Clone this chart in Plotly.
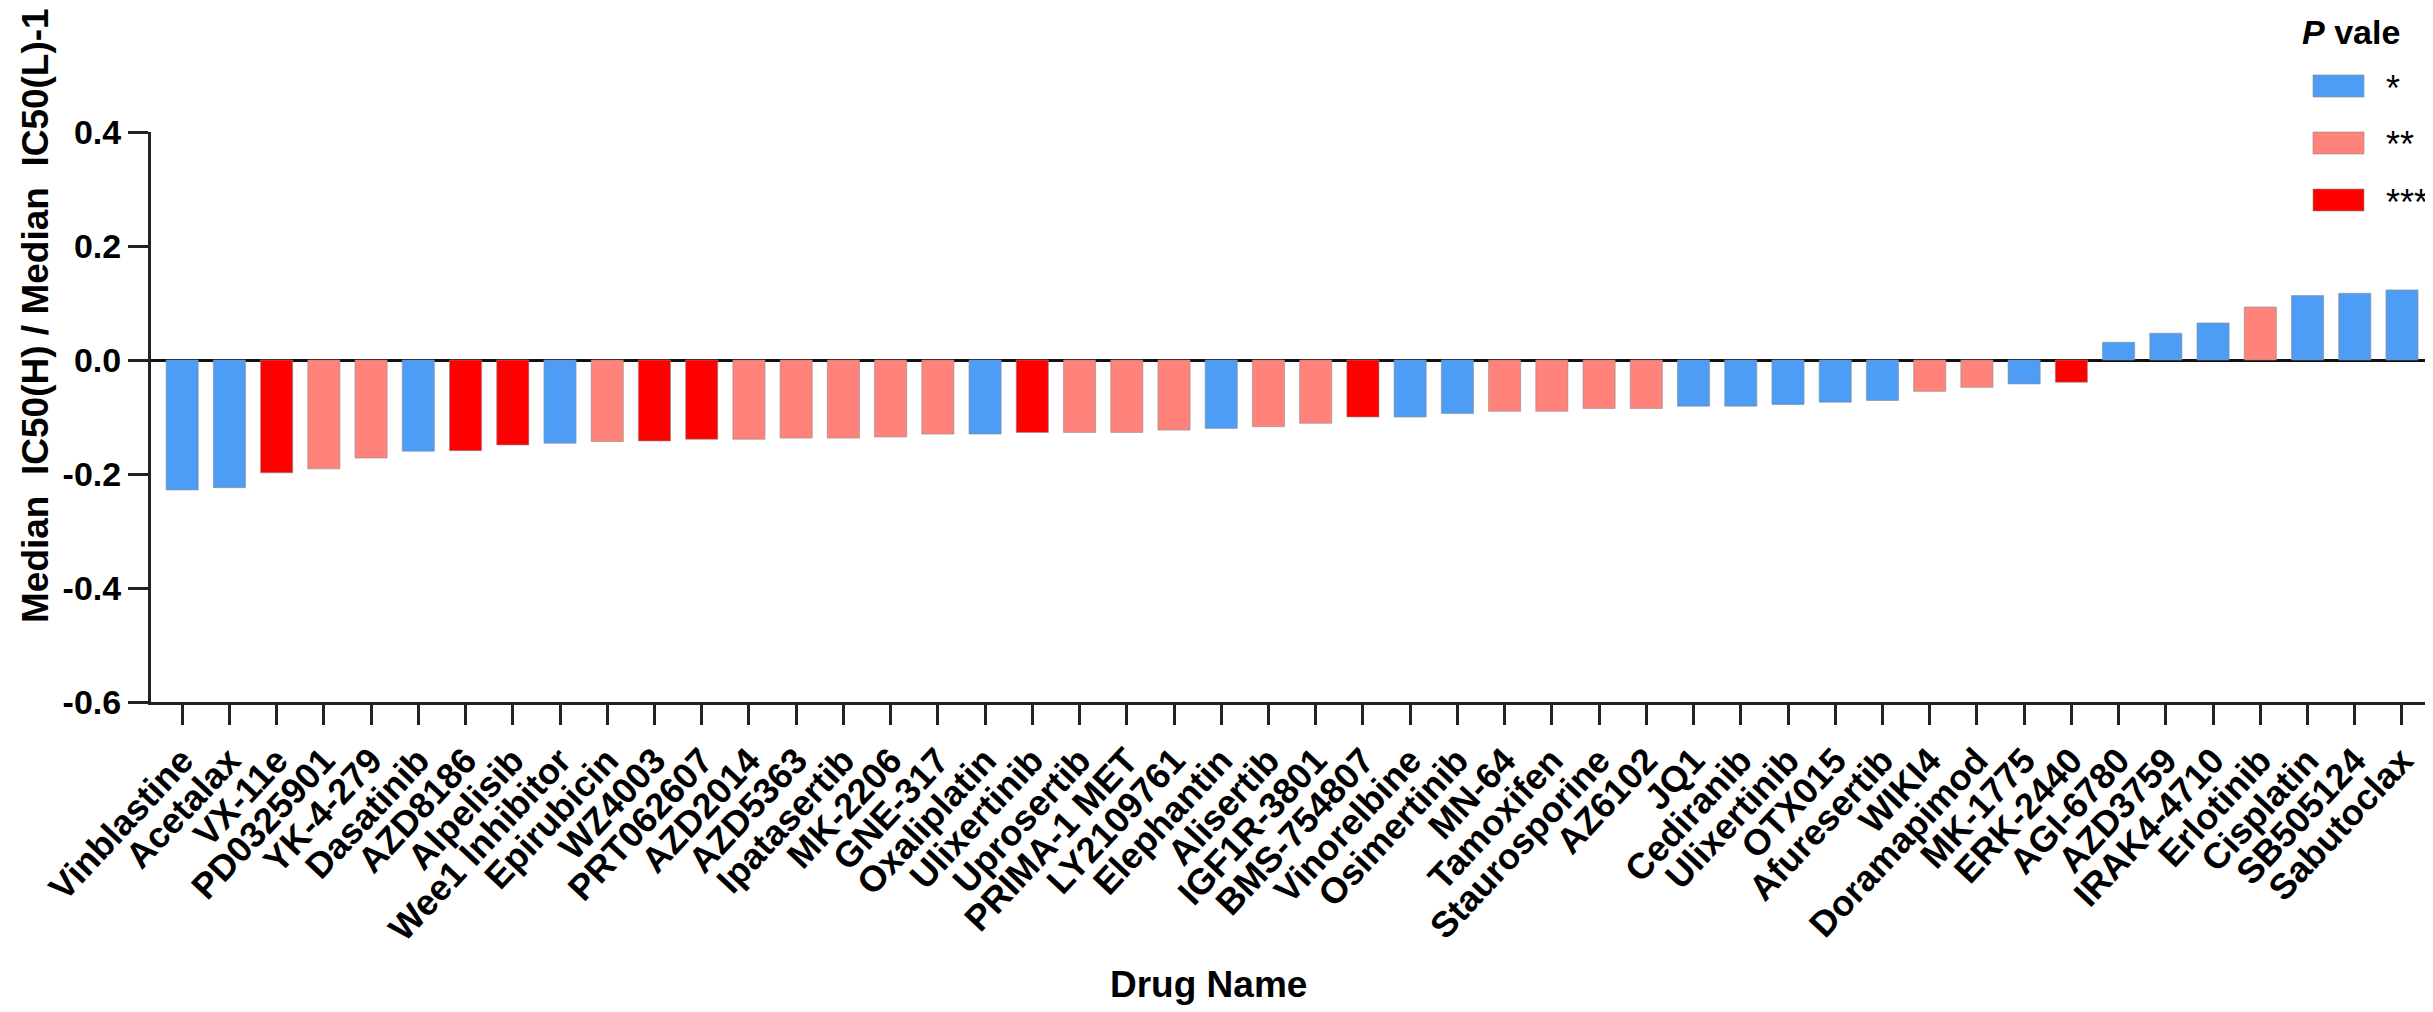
import plotly.graph_objects as go

# ---------------- data ----------------
drugs = ["Vinblastine", "Acetalax", "VX-11e", "PD0325901", "YK-4-279", "Dasatinib",
         "AZD8186", "Alpelisib", "Wee1 Inhibitor", "Epirubicin", "WZ4003", "PRT062607",
         "AZD2014", "AZD5363", "Ipatasertib", "MK-2206", "GNE-317", "Oxaliplatin",
         "Ulixertinib", "Uprosertib", "PRIMA-1 MET", "LY2109761", "Elephantin", "Alisertib",
         "IGF1R-3801", "BMS-754807", "Vinorelbine", "Osimertinib", "MN-64", "Tamoxifen",
         "Staurosporine", "AZ6102", "JQ1", "Cediranib", "Ulixertinib", "OTX015",
         "Afuresertib", "WIKI4", "Doramapimod", "MK-1775", "ERK-2440", "AGI-6780",
         "AZD3759", "IRAK4-4710", "Erlotinib", "Cisplatin", "SB505124", "Sabutoclax"]

values = [-0.228, -0.224, -0.198, -0.191, -0.172, -0.160,
          -0.159, -0.149, -0.146, -0.143, -0.142, -0.139,
          -0.139, -0.137, -0.137, -0.135, -0.130, -0.130,
          -0.127, -0.127, -0.127, -0.123, -0.120, -0.117,
          -0.111, -0.100, -0.100, -0.094, -0.090, -0.090,
          -0.085, -0.085, -0.081, -0.081, -0.078, -0.074,
          -0.071, -0.055, -0.048, -0.042, -0.039, 0.031,
          0.047, 0.065, 0.093, 0.113, 0.117, 0.123]

pvals = ["*", "*", "***", "**", "**", "*",
         "***", "***", "*", "**", "***", "***",
         "**", "**", "**", "**", "**", "*",
         "***", "**", "**", "**", "*", "**",
         "**", "***", "*", "*", "**", "**",
         "**", "**", "*", "*", "*", "*",
         "*", "**", "**", "*", "***", "*",
         "*", "*", "**", "*", "*", "*"]

levels = ["*", "**", "***"]
level_colors = ["#4D9CF6", "#FF827B", "#FF0000"]

y_tickvals = [-0.6, -0.4, -0.2, 0.0, 0.2, 0.4]
y_ticktext = ["-0.6", "-0.4", "-0.2", "0.0", "0.2", "0.4"]

# ---------------- layout constants (pixels) ----------------
W, H = 2433, 1012
L, R, T, B = 143, 5, 124, 318
PLOT_W = W - L - R
PLOT_H = H - T - B
FONT = "Arial, Liberation Sans, sans-serif"


def px_x(p):
    return (p - L) / PLOT_W


def px_y(p):
    return (H - B - p) / PLOT_H


idx = list(range(len(drugs)))

fig = go.Figure()
for lv, col in zip(levels, level_colors):
    xs = [i for i, p in zip(idx, pvals) if p == lv]
    ys = [v for v, p in zip(values, pvals) if p == lv]
    fig.add_trace(go.Bar(
        x=xs, y=ys, name=lv, width=0.68,
        marker=dict(color=col, line=dict(color="rgba(140,140,140,0.6)", width=1)),
        showlegend=False,
    ))

fig.update_layout(
    width=W, height=H, autosize=False,
    margin=dict(l=L, r=R, t=T, b=B, pad=0),
    paper_bgcolor="white", plot_bgcolor="white",
    barmode="overlay",
    font=dict(family=FONT, color="black"),
    showlegend=False,
)

fig.update_xaxes(
    range=[-0.66, len(drugs) - 1 + 0.72],
    tickmode="array", tickvals=idx, ticktext=drugs,
    tickangle=-47,
    tickfont=dict(family=FONT, size=36, color="black", weight="bold"),
    showline=True, linecolor="#222222", linewidth=3,
    ticks="outside", ticklen=20, tickwidth=3, tickcolor="#222222",
    showgrid=False, zeroline=False,
)

fig.update_yaxes(
    range=[-0.6, 0.4],
    tickmode="array", tickvals=y_tickvals, ticktext=y_ticktext,
    tickfont=dict(family=FONT, size=34, color="black", weight="bold"),
    showline=True, linecolor="#222222", linewidth=3,
    ticks="outside", ticklen=20, tickwidth=3, tickcolor="#222222",
    showgrid=False,
    zeroline=True, zerolinecolor="#111111", zerolinewidth=3,
)

annotations = [
    dict(text="Median\u00a0\u00a0IC50(H) / Median\u00a0\u00a0IC50(L)-1",
         xref="paper", yref="paper", x=px_x(27), y=px_y(308),
         xanchor="center", yanchor="middle", textangle=-90, showarrow=False,
         font=dict(family=FONT, size=37, color="black", weight="bold")),
    dict(text="Drug Name",
         xref="paper", yref="paper", x=px_x(1200), y=px_y(976),
         xanchor="center", yanchor="middle", showarrow=False,
         font=dict(family=FONT, size=37, color="black", weight="bold")),
    dict(text="<b><i>P</i> vale</b>",
         xref="paper", yref="paper", x=px_x(2343), y=px_y(24),
         xanchor="center", yanchor="middle", showarrow=False,
         font=dict(family=FONT, size=34, color="black")),
]

shapes = []
box_tops = [67, 124, 181]
for lv, col, top in zip(levels, level_colors, box_tops):
    shapes.append(dict(type="rect", xref="paper", yref="paper",
                       x0=px_x(2305), x1=px_x(2356), y0=px_y(top + 22), y1=px_y(top),
                       fillcolor=col, line=dict(color="rgba(140,140,140,0.6)", width=1)))
    annotations.append(dict(text=lv, xref="paper", yref="paper",
                            x=px_x(2376), y=px_y(top + 13),
                            xanchor="left", yanchor="middle", showarrow=False,
                            font=dict(family=FONT, size=36, color="black")))

fig.update_layout(annotations=annotations, shapes=shapes)

fig.write_html("out.html")
